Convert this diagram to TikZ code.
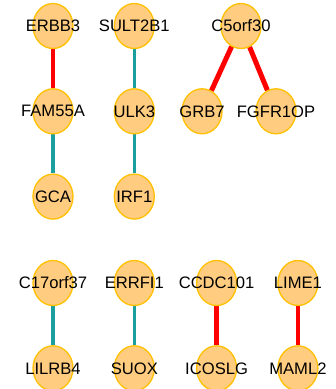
\documentclass[tikz,border=0pt]{standalone}
\usepackage{fontspec}
\setmainfont{Liberation Sans}
\usepackage{tikz}
\usetikzlibrary{shapes.geometric, positioning, backgrounds}
\definecolor{nodefill}{RGB}{255, 204, 128}
\definecolor{nodeborder}{RGB}{255, 192, 0}
\definecolor{linkred}{RGB}{255, 0, 0}
\definecolor{linkteal}{RGB}{26, 158, 158}
\newcommand{\gene}[1]{\makebox[0pt]{#1}}
\tikzset{
  genenode/.style={
    ellipse, draw=nodeborder, fill=nodefill, line width=1.3pt,
    minimum width=40pt, minimum height=45pt, inner sep=0pt,
    font=\fontsize{16.6}{18}\selectfont
  },
  redlink/.style={draw=linkred, line width=4.5pt},
  teallink/.style={draw=linkteal, line width=3pt}
}
\begin{document}
\begin{tikzpicture}[x=1pt, y=-1pt, node distance=39pt and 40pt]
  \useasboundingbox (0,0) rectangle (336,389);

  % Upper cluster: two chains and one fork
  \node[genenode] (erbb3) at (53,26) {\gene{ERBB3}};
  \node[genenode, below=of erbb3] (fam55a) {\gene{FAM55A}};
  \node[genenode, below=of fam55a] (gca) {\gene{GCA}};

  \node[genenode, right=of erbb3] (sult2b1) {\gene{SULT2B1}};
  \node[genenode, below=of sult2b1] (ulk3) {\gene{ULK3}};
  \node[genenode, below=of ulk3] (irf1) {\gene{IRF1}};

  \node[genenode] (c5orf30) at (241,26) {\gene{C5orf30}};
  \node[genenode, below=of c5orf30, xshift=-39pt] (grb7) {\gene{GRB7}};
  \node[genenode, below=of c5orf30, xshift=35pt] (fgfr1op) {\gene{FGFR1OP}};

  % Lower cluster: four single pairs
  \node[genenode] (c17orf37) at (53,283) {\gene{C17orf37}};
  \node[genenode, below=of c17orf37] (lilrb4) {\gene{LILRB4}};
  \node[genenode, right=of c17orf37] (errfi1) {\gene{ERRFI1}};
  \node[genenode, below=of errfi1] (suox) {\gene{SUOX}};
  \node[genenode, right=41pt of errfi1] (ccdc101) {\gene{CCDC101}};
  \node[genenode, below=of ccdc101] (icoslg) {\gene{ICOSLG}};
  \node[genenode, right=of ccdc101] (lime1) {\gene{LIME1}};
  \node[genenode, below=of lime1] (maml2) {\gene{MAML2}};

  % Links
  \begin{scope}[on background layer]
    \draw[redlink] (erbb3) -- (fam55a);
    \draw[teallink, line width=4pt] (fam55a) -- (gca);
    \draw[teallink, line width=2.7pt] (sult2b1) -- (ulk3);
    \draw[teallink, line width=2.7pt] (ulk3) -- (irf1);
    \draw[redlink, line width=5pt] (c5orf30) -- (grb7);
    \draw[redlink, line width=5pt] (c5orf30) -- (fgfr1op);
    \draw[teallink, line width=3.3pt] (c17orf37) -- (lilrb4);
    \draw[teallink, line width=2.7pt] (errfi1) -- (suox);
    \draw[redlink, line width=4.3pt] (ccdc101) -- (icoslg);
    \draw[redlink, line width=3.3pt] (lime1) -- (maml2);
  \end{scope}
\end{tikzpicture}
\end{document}
